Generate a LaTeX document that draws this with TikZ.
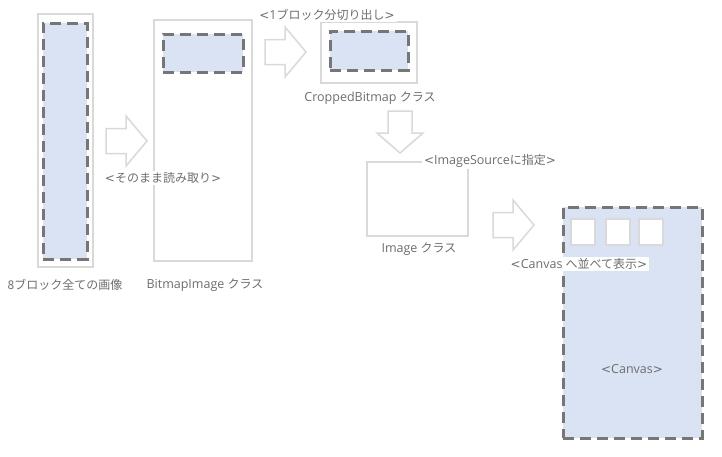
\documentclass[tikz,border=0pt]{standalone}
\usepackage{fontspec}
\setmainfont{Open Sans}
\newfontfamily\jp{Noto Sans CJK JP}
\newfontfamily\dv{DejaVu Sans}
\newcommand\ltchar{{\dv\fontsize{12}{14}\selectfont<}}
\newcommand\gtchar{{\dv\fontsize{12}{14}\selectfont>}}
\newcommand\jpt[1]{{\jp\fontsize{12}{14}\selectfont #1}}
\definecolor{lightline}{HTML}{D9D9D9}
\definecolor{dashline}{HTML}{767676}
\definecolor{bluefill}{HTML}{DAE3F3}
\definecolor{textgray}{HTML}{6E6E6E}
\begin{document}
\begin{tikzpicture}[x=1pt,y=-1pt,
  every node/.style={inner sep=0pt, outer sep=0pt, font=\fontsize{12.5}{14}\selectfont, text=textgray},
  outerbox/.style={draw=lightline, line width=2pt, fill=white},
  dashbox/.style={draw=dashline, line width=3pt, dash pattern=on 11pt off 6pt, fill=bluefill},
  smallbox/.style={draw=lightline, line width=2pt, fill=white, minimum width=24pt, minimum height=26pt},
  lbl/.style={fill=white, inner xsep=2pt, inner ysep=1pt},
  blockarrow/.style={draw=lightline, line width=1.5pt, fill=white, line join=miter},
  rarrow/.pic={\draw[blockarrow] (0,-12.5) -- (20,-12.5) -- (20,-25) -- (41,0) -- (20,25) -- (20,12.5) -- (0,12.5) -- cycle;},
  darrow/.pic={\draw[blockarrow] (-12,0) -- (-12,22) -- (-23,22) -- (0,42) -- (23,22) -- (12,22) -- (12,0) -- cycle;}
]
\useasboundingbox[fill=white] (0,0) rectangle (722,456);

% all-blocks image
\node[outerbox, minimum width=55pt, minimum height=253pt] (allouter) at (65.5,140.5) {};
\node[dashbox, minimum width=44pt, minimum height=236pt] (allinner) at (65,141) {};
\node (alllbl) at (65,285) {\jpt{8ブロック全ての画像}};

% BitmapImage
\node[outerbox, minimum width=98pt, minimum height=241pt] (bmpouter) at (203,140.5) {};
\node[dashbox, minimum width=80pt, minimum height=38pt] (bmpinner) at (203,53) {};
\node (bmplbl) at (205,285) {BitmapImage \jpt{クラス}};

% CroppedBitmap
\node[outerbox, minimum width=96pt, minimum height=61pt] (cropouter) at (369,52.5) {};
\node[dashbox, minimum width=78pt, minimum height=39pt] (cropinner) at (369,50.5) {};
\node (croplbl) at (370,98) {CroppedBitmap \jpt{クラス}};

% Image
\node[outerbox, minimum width=101pt, minimum height=74pt] (imgbox) at (417.5,199) {};
\node (imglbl) at (419,249) {Image \jpt{クラス}};

% Canvas
\node[dashbox, minimum width=139pt, minimum height=231pt] (canvas) at (632.5,322.5) {};
\node (canvaslbl) at (632,369) {\ltchar Canvas\gtchar};
\node[smallbox] (sq1) at (583,231.5) {};
\node[smallbox] (sq2) at (617.5,231.5) {};
\node[smallbox] (sq3) at (651,231.5) {};

% block arrows
\pic at (106,141) {rarrow};
\pic at (265,52) {rarrow};
\pic at (400,111) {darrow};
\pic at (493,225) {rarrow};

% step labels
\node[lbl] (l1) at (163,178) {\ltchar\jpt{そのまま読み取り}\gtchar};
\node[lbl] (l2) at (327,15) {\ltchar 1\jpt{ブロック分切り出し}\gtchar};
\node[lbl] (l3) at (490,161) {\ltchar ImageSource\jpt{に指定}\gtchar};
\node[lbl] (l4) at (579,264) {\ltchar Canvas \jpt{へ並べて表示}\gtchar};
\end{tikzpicture}
\end{document}
